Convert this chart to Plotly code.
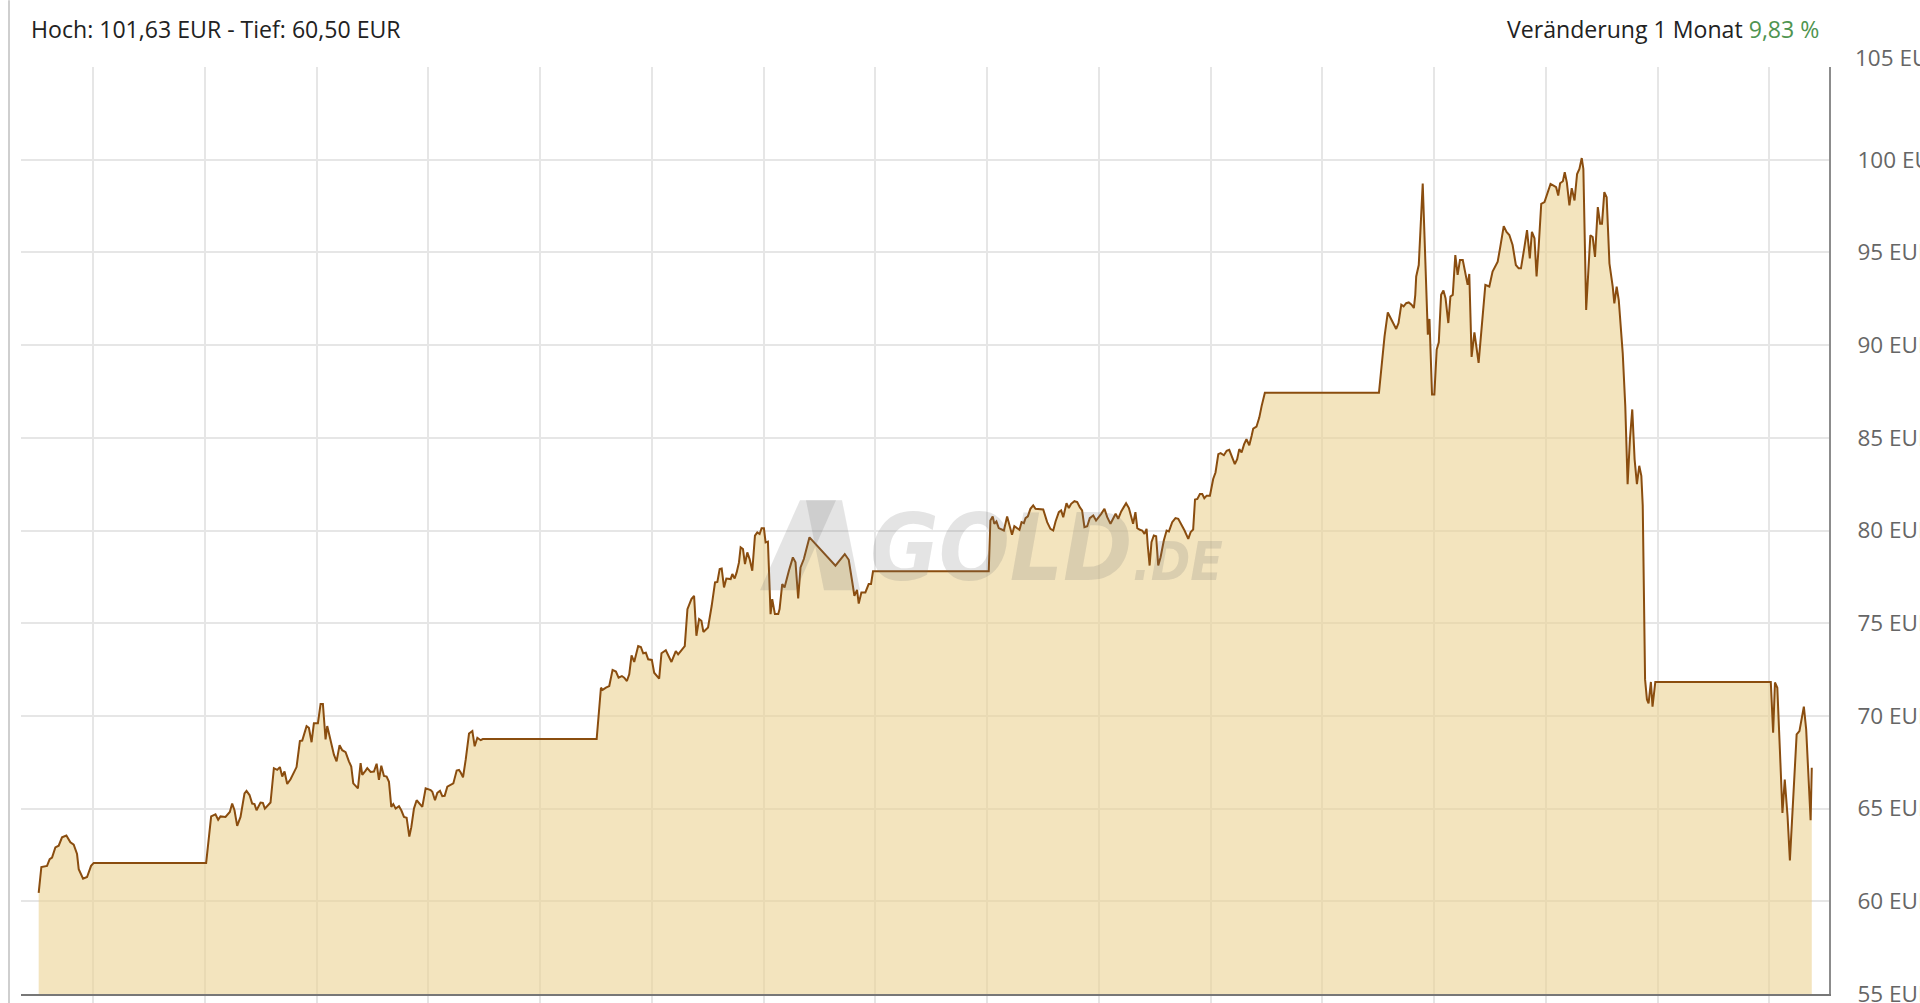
import plotly.graph_objects as go
import pandas as pd

# ---------------- data ----------------
basis = pd.Timestamp("2026-01-01 00:00")
# hours since 2026-01-01 00:00
stunden = [
    24.65, 25.79, 28.23, 29.37, 30.38, 31.81, 33.24, 34.67, 36.54, 38.26, 39.69, 41.12, 41.84, 43.70, 45.42, 47.14, 48.29,
    96.57, 98.72, 100.58, 101.73, 102.73, 104.88, 106.74, 107.75, 108.75, 109.90, 111.33, 113.05, 113.91, 115.20, 116.35,
    117.35, 118.21, 119.93, 120.93, 121.79, 123.51, 124.22, 125.66, 127.09, 128.24, 129.24, 130.24, 131.39, 132.82, 134.25,
    135.40, 136.83, 137.84, 139.70, 140.70, 141.85, 142.85, 144.57, 145.72, 146.72, 147.86, 148.58, 150.01, 151.45, 152.59,
    153.88, 155.03, 156.46, 157.89, 158.90, 159.76, 160.76, 161.76, 162.91, 163.63, 165.06, 165.78, 167.21, 168.64, 169.79,
    170.79, 171.80, 172.94, 174.09, 175.09, 176.09, 176.95, 177.96, 179.39, 180.39, 181.54, 182.68, 183.83, 184.69, 185.83,
    186.98, 187.98, 189.42, 190.85, 193.00, 193.72, 194.86, 195.86, 197.01, 198.01, 199.02, 200.16, 201.60, 202.74, 204.18,
    205.18, 205.90, 206.90, 208.05, 209.48, 210.91, 211.91, 213.06, 214.49, 215.40, 264.30,
    266.14, 266.86, 268.29, 269.71, 271.14, 272.57, 273.71, 275.14, 276.14, 277.29, 278.29, 279.29, 280.43, 282.14, 283.29,
    284.29, 285.43, 286.43, 288.00, 289.00, 291.14, 292.14, 294.00, 295.14, 296.43, 298.29, 299.29, 300.43, 302.14, 303.29,
    305.00, 306.14, 307.14, 308.29, 309.29, 310.14, 311.14, 312.14, 313.71, 315.14, 316.14, 317.14, 318.00, 319.00, 320.00,
    321.86, 322.57, 323.57, 324.43, 325.43, 326.14, 327.14, 328.00, 329.00, 330.00, 331.14, 332.29, 333.29, 334.29, 335.14,
    336.14, 336.86, 337.86, 339.00, 339.71, 340.86, 342.29, 342.86, 344.00, 345.00, 346.86, 348.57, 349.71, 350.86, 351.86,
    353.29, 355.71, 366.86, 370.86, 372.57, 374.00, 375.00, 376.14, 376.86, 378.00, 379.71, 381.14, 382.14, 383.00, 432.70,
    433.40, 434.40, 435.10, 436.00, 437.00, 439.20, 440.60, 441.70, 442.70, 443.70, 444.90, 445.90, 446.80, 447.80, 448.50,
    449.50, 450.60, 451.80, 452.80, 454.60, 456.10, 457.80, 459.20, 460.40, 461.40, 462.80, 463.80, 464.70, 466.10, 467.10,
    468.10, 469.50, 470.70, 471.80, 472.80, 473.80, 475.00, 476.10, 477.60, 478.80, 480.00, 481.00, 482.40, 483.60, 485.00,
    486.10, 487.20, 488.30, 489.60, 490.70, 491.70, 492.90, 493.90, 494.70, 495.70, 496.50, 497.60, 498.60, 499.60, 500.50,
    501.00, 501.80, 502.60, 503.60, 504.60, 505.50, 506.50, 507.90, 509.10, 510.10, 511.50, 512.90, 514.10, 515.40, 516.80,
    518.40, 519.40, 520.50,
    521.30, 522.30, 523.40, 524.40, 525.30, 526.30, 527.70, 529.10, 530.10, 531.30, 532.30, 533.70, 534.90, 536.00, 537.00,
    538.40, 539.40, 540.30, 541.30, 542.40, 543.40, 544.60, 545.60, 546.30, 547.70, 548.90, 549.90, 551.30, 600.30,
    602.70, 604.10, 606.00, 607.70, 608.70, 609.90, 610.90, 612.00, 613.10, 614.30, 615.30, 615.90, 616.30, 617.40, 619.10,
    620.30, 621.30, 622.00, 623.10, 624.10, 625.10, 626.00, 627.00, 628.00, 628.90, 630.10, 631.00, 632.00, 633.10, 634.10,
    635.10, 636.30, 637.40, 638.40, 639.10, 640.10, 641.30, 643.10, 646.00, 647.70, 649.10, 651.30, 652.30, 653.90, 655.10,
    656.30, 657.70, 659.10, 660.30, 661.30, 662.70, 663.90, 665.10, 666.00, 667.10, 668.00, 668.90,
    670.00, 671.40, 674.00, 675.30, 676.40, 677.30, 678.10, 679.30, 680.10, 681.00, 682.10, 683.10, 684.30, 685.40, 686.40,
    687.40, 688.10, 689.30, 690.40, 691.10, 692.10, 693.10, 694.30, 695.30, 696.10, 697.10, 698.10, 699.30, 700.70, 701.40,
    702.40, 703.30, 705.00, 706.10, 707.10, 708.10, 709.10, 710.10, 711.10, 712.10, 713.00, 713.60,
    714.60, 715.40, 716.10, 717.10, 717.80, 719.00, 768.60, 769.60, 770.40, 771.40, 772.50, 773.60, 774.60, 775.80, 776.80,
    777.90, 779.00, 779.70, 780.90, 781.90, 782.80, 783.80, 784.80, 785.70, 786.20,
]
# price in EUR
kurs = [
    60.45, 61.85, 61.91, 62.27, 62.36, 62.91, 63.00, 63.45, 63.55, 63.18, 63.05, 62.55, 61.73, 61.22, 61.31, 61.91, 62.07,
    62.07, 64.58, 64.69, 64.40, 64.58, 64.55, 64.82, 65.27, 64.91, 64.07, 64.55, 65.82, 65.95, 65.73, 65.27,
    65.24, 64.91, 65.33, 65.31, 65.00, 65.27, 65.33, 67.18, 67.09, 67.24, 66.73, 67.00, 66.33, 66.58, 67.00,
    67.24, 68.64, 68.67, 69.45, 69.36, 68.58, 69.60, 69.60, 70.64, 70.64, 68.73, 69.45, 68.64, 67.91, 67.55,
    68.42, 68.15, 68.04, 67.55, 67.27, 66.36, 66.22, 66.09, 67.45, 66.82, 67.05, 67.18, 66.98, 67.00, 67.42,
    66.55, 67.31, 66.76, 66.73, 66.45, 65.09, 65.24, 65.00, 65.13, 64.91, 64.55, 64.51, 63.49, 64.00, 65.00,
    65.45, 65.31, 65.09, 66.09, 66.00, 65.91, 65.45, 65.85, 65.96, 65.67, 65.69, 66.18, 66.27, 66.36, 67.05,
    67.09, 66.95, 66.69, 67.64, 69.05, 69.18, 68.36, 68.82, 68.69, 68.75, 68.75,
    71.52, 71.40, 71.52, 71.61, 72.48, 72.39, 72.06, 72.15, 72.06, 71.88, 72.24, 73.27, 72.91, 73.77, 73.72,
    73.38, 73.41, 73.05, 73.02, 72.33, 72.01, 73.38, 73.54, 73.20, 72.91, 73.50, 73.32, 73.50, 73.77, 75.76,
    76.30, 76.48, 74.32, 75.22, 75.13, 74.53, 74.68, 74.77, 75.94, 77.20, 77.23, 77.92, 77.95, 76.93, 77.41,
    77.38, 77.65, 77.41, 77.74, 78.28, 79.09, 79.00, 78.19, 78.82, 78.46, 77.83, 79.72, 79.90, 79.81, 80.12,
    80.12, 79.36, 79.40, 75.49, 76.30, 75.49, 75.49, 75.76, 77.11, 76.93, 77.83, 78.55, 78.28, 76.33, 78.01,
    78.46, 79.63, 78.10, 78.73, 78.42, 77.29, 76.48, 76.80, 76.06, 76.66, 76.66, 77.11, 77.11, 77.80, 77.80,
    80.54, 80.76, 80.36, 80.49, 80.13, 80.00, 80.76, 80.18, 79.77, 80.23, 80.13, 80.04, 80.45, 80.40, 80.67,
    80.76, 81.17, 81.35, 81.17, 81.13, 81.13, 80.45, 80.09, 80.00, 80.49, 80.99, 81.08, 80.72, 81.47, 81.21,
    81.44, 81.58, 81.53, 81.26, 81.08, 80.18, 80.23, 80.67, 80.81, 80.54, 80.72, 80.90, 81.17, 80.72, 80.36,
    80.63, 80.90, 80.63, 81.03, 81.26, 81.47, 81.21, 80.72, 80.36, 80.99, 80.13, 80.04, 80.00, 79.82, 80.09,
    79.19, 78.11, 79.37, 79.73, 79.69, 78.11, 78.56, 79.46, 80.00, 79.95, 80.45, 80.67, 80.63, 80.36, 80.00,
    79.55, 79.91, 80.05,
    81.67, 81.70, 81.97, 81.97, 81.74, 81.88, 81.88, 82.78, 83.13, 84.12, 84.17, 84.06, 84.30, 84.35, 84.06,
    83.58, 83.85, 84.39, 84.21, 84.66, 84.92, 84.60, 85.10, 85.50, 85.60, 86.09, 86.71, 87.43, 87.43,
    90.47, 91.76, 91.28, 90.87, 91.19, 92.18, 92.09, 92.26, 92.30, 92.18, 92.00, 92.71, 93.70, 94.32, 98.71,
    94.77, 90.56, 91.41, 87.34, 87.34, 89.76, 90.15, 92.71, 92.95, 92.53, 91.19, 92.62, 92.71, 94.86, 93.79,
    94.59, 94.59, 93.79, 93.25, 93.84, 89.36, 90.69, 89.04, 93.25, 93.16, 93.97, 94.50, 95.22, 96.42, 96.11,
    95.94, 95.40, 94.32, 94.14, 94.14, 95.22, 96.20, 94.68, 96.11, 95.76, 93.70, 95.31,
    97.62, 97.71, 98.69, 98.60, 98.52, 98.07, 98.73, 98.84, 99.32, 98.78, 97.53, 98.46, 97.80, 99.23, 99.50,
    100.09, 99.50, 91.90, 94.31, 95.92, 95.83, 94.76, 97.44, 96.55, 96.55, 98.25, 97.98, 94.40, 93.15, 92.25,
    93.15, 92.43, 89.57, 86.71, 82.50, 84.92, 86.53, 83.85, 82.50, 83.49, 82.95, 81.34,
    71.97, 70.89, 70.68, 71.83, 70.50, 71.83, 71.83, 69.09, 71.80, 71.52, 68.19, 64.77, 66.57, 64.59, 62.21,
    64.59, 66.93, 69.00, 69.18, 69.81, 70.50, 69.27, 66.93, 64.37, 67.20,
]

y_tickwerte = [55, 60, 65, 70, 75, 80, 85, 90, 95, 100, 105]
y_ticktexte = ["55 EUR", "60 EUR", "65 EUR", "70 EUR", "75 EUR", "80 EUR", "85 EUR",
               "90 EUR", "95 EUR", "100 EUR", ""]
label_105 = "105 EUR"
x_bereich = ["2026-01-01 17:03", "2026-02-03 01:36"]

titel_links = "Hoch: 101,63 EUR - Tief: 60,50 EUR"
titel_rechts = "Veränderung 1 Monat"
veraenderung = "9,83 %"

zeiten = basis + pd.to_timedelta(stunden, unit="h")

# ---------------- figure ----------------
W, H = 1920, 1003
# plot area, in page pixels
PL, PR, PT, PB = 21, 1829, 66.7, 994.0


def px(X):  # page pixel -> paper x
    return (X - PL) / (PR - PL)


def py(Y):  # page pixel -> paper y
    return (PB - Y) / (PB - PT)


fig = go.Figure()
fig.add_trace(go.Scatter(
    x=zeiten, y=kurs, mode="lines",
    line=dict(color="#8a4d0f", width=2),
    fill="tozeroy", fillcolor="rgba(235,210,147,0.6)",
    hoverinfo="skip", showlegend=False,
))

fig.update_layout(
    width=W, height=H, autosize=False,
    margin=dict(l=PL, r=W - PR, t=PT, b=H - PB, pad=0, autoexpand=False),
    paper_bgcolor="white", plot_bgcolor="white",
    font=dict(family="Open Sans", color="#222222"),
    xaxis=dict(
        type="date", range=x_bereich, automargin=False,
        tick0="2026-01-01", dtick=2 * 86400000,
        showgrid=True, gridcolor="#e6e6e6", gridwidth=2,
        showticklabels=False, ticks="outside", ticklen=12,
        tickcolor="#e6e6e6", tickwidth=2,
        showline=True, linecolor="#777777", linewidth=2,
        zeroline=False, fixedrange=True,
    ),
    yaxis=dict(
        side="right", range=[55, 105], automargin=False,
        tickmode="array", tickvals=y_tickwerte, ticktext=y_ticktexte,
        showgrid=True, gridcolor="#e6e6e6", gridwidth=2,
        ticks="", ticklabelstandoff=22, ticklabeloverflow="allow",
        tickfont=dict(family="Open Sans", size=22.5, color="#666666"),
        showline=True, linecolor="#8c8c8c", linewidth=2,
        zeroline=False, fixedrange=True,
    ),
)

annotations = [
    dict(text=titel_links, xref="paper", yref="paper", x=px(29), y=py(28.2),
         xanchor="left", yanchor="middle", showarrow=False,
         font=dict(family="Open Sans", size=23.1, color="#222222")),
    dict(text=f"{titel_rechts} <span style='color:#4f9450'>{veraenderung}</span>",
         xref="paper", yref="paper", x=px(1821), y=py(28.2),
         xanchor="right", yanchor="middle", showarrow=False,
         font=dict(family="Open Sans", size=23.1, color="#222222")),
    dict(text=label_105, xref="paper", yref="paper", x=px(1853), y=py(57.5),
         xanchor="left", yanchor="middle", showarrow=False,
         font=dict(family="Open Sans", size=22.5, color="#666666")),
    dict(text="GOLD<span style='font-size:53px'>.DE</span>", xref="paper", yref="paper",
         x=px(868), y=py(548), xanchor="left", yanchor="middle", showarrow=False,
         font=dict(family="Liberation Sans Narrow, DejaVu Sans Condensed, Roboto", size=93,
                   color="rgba(110,110,110,0.19)", weight=900, style="italic")),
]
fig.update_layout(annotations=annotations)

# left border of the widget and watermark logo
shapes = [
    dict(type="line", xref="paper", yref="paper", x0=px(9), x1=px(9), y0=py(0), y1=py(1003),
         line=dict(color="#cfcfcf", width=2)),
    dict(type="path", xref="paper", yref="paper",
         path=(f"M {px(760)},{py(590)} L {px(800)},{py(500)} L {px(836)},{py(500)} "
               f"L {px(796)},{py(590)} Z"),
         fillcolor="rgba(110,110,110,0.19)", line=dict(width=0)),
    dict(type="path", xref="paper", yref="paper",
         path=(f"M {px(806)},{py(500)} L {px(842)},{py(500)} L {px(860)},{py(590)} "
               f"L {px(824)},{py(590)} Z"),
         fillcolor="rgba(110,110,110,0.19)", line=dict(width=0)),
]
fig.update_layout(shapes=shapes)

# the page body gets no margin, so the 1920x1003 figure fills the window exactly
fig.write_html("out.html", config={"displayModeBar": False},
               post_script="document.body.style.margin='0';document.body.style.overflow='hidden';")
